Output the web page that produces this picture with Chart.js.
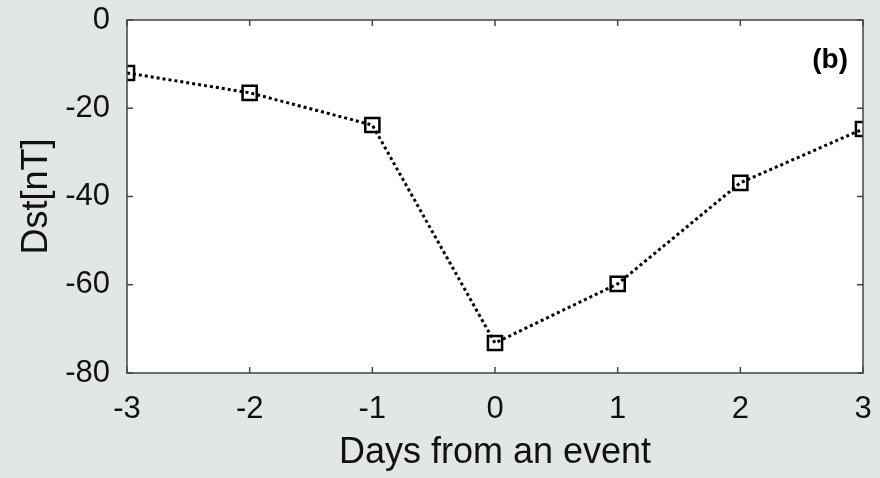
<!DOCTYPE html>
<html>
<head>
<meta charset="utf-8">
<script src="https://cdn.jsdelivr.net/npm/chart.js@4"></script>
<style>
  html, body { margin: 0; padding: 0; background: #e2e6e6; }
  #wrap { width: 880px; height: 478px; }
</style>
</head>
<body>
<div id="wrap"><canvas id="grafico" width="880" height="478"></canvas></div>
<script>
const days = [-3, -2, -1, 0, 1, 2, 3];
const dst = [-12, -16.5, -23.8, -73.2, -59.8, -36.9, -24.7];
const xTicks = [-3, -2, -1, 0, 1, 2, 3];
const yTicks = [0, -20, -40, -60, -80];

const fundo = {
    id: 'fundo',
    beforeDraw(chart) {
        const c = chart.ctx, a = chart.chartArea;
        c.save();
        c.fillStyle = '#e2e6e6';
        c.fillRect(0, 0, chart.width, chart.height);
        c.fillStyle = '#ffffff';
        c.fillRect(a.left, a.top, a.right - a.left, a.bottom - a.top);
        c.restore();
    }
};

// moldura com marcas para dentro, nos quatro lados
const moldura = {
    id: 'moldura',
    afterDatasetsDraw(chart) {
        const c = chart.ctx, a = chart.chartArea;
        const sx = chart.scales.x, sy = chart.scales.y;
        const len = 6;
        c.save();
        c.strokeStyle = '#444';
        c.lineWidth = 1.5;
        c.beginPath();
        xTicks.forEach(v => {
            const px = sx.getPixelForValue(v);
            c.moveTo(px, a.bottom); c.lineTo(px, a.bottom - len);
            c.moveTo(px, a.top); c.lineTo(px, a.top + len);
        });
        yTicks.forEach(v => {
            const py = sy.getPixelForValue(v);
            c.moveTo(a.left, py); c.lineTo(a.left + len, py);
            c.moveTo(a.right, py); c.lineTo(a.right - len, py);
        });
        c.stroke();
        c.strokeRect(a.left, a.top, a.right - a.left, a.bottom - a.top);
        c.fillStyle = '#000';
        c.font = 'bold 28px "Liberation Sans", Arial, sans-serif';
        c.textAlign = 'right';
        c.textBaseline = 'middle';
        c.fillText('(b)', a.right - 15, a.top + 40);
        c.restore();
    }
};

const ctx = document.getElementById('grafico').getContext('2d');
const grafico = new Chart(ctx, {
    type: 'line',
    data: {
        datasets: [{
            label: 'Dst',
            data: days.map((d, i) => ({ x: d, y: dst[i] })),
            borderColor: '#000',
            borderWidth: 3,
            borderDash: [3, 3],
            pointStyle: 'rect',
            pointRadius: 10,
            pointBorderWidth: 2.5,
            pointBorderColor: '#000',
            pointBackgroundColor: 'rgba(0,0,0,0)',
            tension: 0
        }]
    },
    options: {
        responsive: false,
        animation: false,
        layout: { padding: { left: 0, top: 20, right: 17, bottom: 0 } },
        plugins: { legend: { display: false }, tooltip: { enabled: false } },
        scales: {
            x: {
                type: 'linear',
                min: -3, max: 3,
                afterFit: s => { s.height = 105; s.paddingLeft = 0; s.paddingRight = 0; },
                afterBuildTicks: s => { s.ticks = xTicks.map(v => ({ value: v })); },
                grid: { display: false, drawTicks: false },
                border: { display: false },
                ticks: {
                    padding: 18,
                    color: '#111',
                    font: { family: '"Liberation Sans", Arial, sans-serif', size: 31 }
                },
                title: {
                    display: true,
                    text: 'Days from an event',
                    color: '#111',
                    padding: { top: 0, bottom: 3 },
                    font: { family: '"Liberation Sans", Arial, sans-serif', size: 36 }
                }
            },
            y: {
                min: -80, max: 0,
                afterFit: s => { s.width = 127; s.paddingTop = 0; s.paddingBottom = 0; },
                afterBuildTicks: s => { s.ticks = yTicks.map(v => ({ value: v })); },
                grid: { display: false, drawTicks: false },
                border: { display: false },
                ticks: {
                    padding: 17,
                    color: '#111',
                    font: { family: '"Liberation Sans", Arial, sans-serif', size: 31 }
                },
                title: {
                    display: true,
                    text: 'Dst[nT]',
                    color: '#111',
                    padding: { top: 15, bottom: 0 },
                    font: { family: '"Liberation Sans", Arial, sans-serif', size: 36 }
                }
            }
        }
    },
    plugins: [fundo, moldura]
});
</script>
</body>
</html>
